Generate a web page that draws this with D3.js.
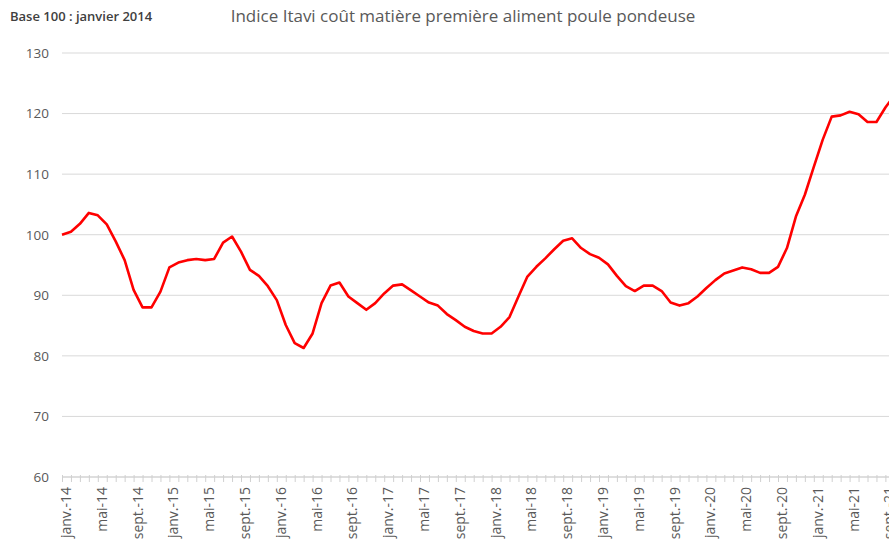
<!DOCTYPE html>
<html lang="fr">
    <head>
        <meta charset="utf-8"/>
        <script src="https://d3js.org/d3.v7.min.js"></script>
        <style>
            html, body { margin: 0; padding: 0; background: #fff; overflow: hidden; }
        </style>
    </head>
    <body>
        <div id="chart"></div>
    </body>
    <script>
        // indice Itavi, base 100 = janvier 2014, une valeur par mois (janv.-14 -> oct.-21)
        var moisNoms = ["janv.", "févr.", "mars", "avr.", "mai", "juin", "juil.", "août", "sept.", "oct.", "nov.", "déc."];
        var annees = ["14", "15", "16", "17", "18", "19", "20", "21"];

        var valeurs = [
            100.0, 100.5, 101.8, 103.6, 103.2, 101.7, 98.9, 95.8, 90.9, 88.0, 88.0, 90.6,
            94.6, 95.4, 95.8, 96.0, 95.8, 96.0, 98.7, 99.7, 97.2, 94.2, 93.2, 91.5,
            89.2, 85.1, 82.1, 81.3, 83.7, 88.7, 91.6, 92.1, 89.8, 88.7, 87.6, 88.7,
            90.3, 91.6, 91.8, 90.8, 89.8, 88.8, 88.3, 86.9, 85.9, 84.8, 84.1, 83.7,
            83.7, 84.8, 86.4, 89.8, 93.1, 94.7, 96.1, 97.6, 99.0, 99.4, 97.8, 96.8,
            96.2, 95.1, 93.2, 91.5, 90.7, 91.6, 91.6, 90.7, 88.8, 88.3, 88.7, 89.8,
            91.2, 92.5, 93.6, 94.1, 94.6, 94.3, 93.7, 93.7, 94.7, 97.8, 103.0, 106.6,
            111.2, 115.7, 119.5, 119.7, 120.3, 119.9, 118.6, 118.6, 121.0, 123.0
        ];

        var yTicks = [60, 70, 80, 90, 100, 110, 120, 130];

        // libellés de catégorie
        var mois = [];
        annees.forEach(function (a) {
            moisNoms.forEach(function (m) { mois.push(m + "-" + a); });
        });
        mois = mois.slice(0, valeurs.length);
        var labelsAxe = mois.filter(function (d, i) { return i % 4 === 0; });

        var data = valeurs.map(function (v, i) { return {mois: mois[i], valeur: v}; });

        var width = 889, height = 545;
        var margin = {top: 53, left: 62, bottom: 68};
        var pasMois = 8.95;

        var svg = d3.select("#chart")
            .append("svg")
                .attr("width", width)
                .attr("height", height)
                .style("font-family", "'Open Sans', sans-serif");

        var x = d3.scalePoint()
            .domain(mois)
            .range([margin.left, margin.left + pasMois * (mois.length - 1)]);

        var y = d3.scaleLinear()
            .domain([60, 130])
            .range([height - margin.bottom, margin.top]);

        // grille horizontale
        svg.append("g")
            .selectAll("line")
            .data(yTicks)
            .enter()
            .append("line")
                .attr("x1", margin.left)
                .attr("x2", width)
                .attr("y1", function (d) { return y(d); })
                .attr("y2", function (d) { return y(d); })
                .attr("stroke", "#d9d9d9")
                .attr("stroke-width", 1);

        // axe Y
        var yAxis = svg.append("g")
            .attr("transform", "translate(49,0)")
            .call(d3.axisLeft(y).tickValues(yTicks).tickSize(0).tickPadding(0));
        yAxis.select(".domain").remove();
        yAxis.selectAll("text")
            .attr("fill", "#595959")
            .style("font-size", "13.5px")
            .style("font-family", "'Open Sans', sans-serif");

        // axe X : graduations mensuelles
        var xAxis = svg.append("g")
            .attr("transform", "translate(0," + (y(60) - 2) + ")")
            .call(d3.axisBottom(x).tickValues(mois).tickSize(7).tickFormat(""));
        xAxis.select(".domain").remove();
        xAxis.selectAll("line").attr("stroke", "#d0d0d0");

        svg.append("line")
            .attr("x1", margin.left)
            .attr("x2", width)
            .attr("y1", y(60))
            .attr("y2", y(60))
            .attr("stroke", "#d0d0d0");

        // libellés de l'axe X (tous les 4 mois)
        svg.append("g")
            .selectAll("text")
            .data(labelsAxe)
            .enter()
            .append("text")
                .attr("transform", function (d) {
                    return "translate(" + (x(d) + 4) + "," + (y(60) + 10) + ") rotate(-90)";
                })
                .attr("text-anchor", "end")
                .attr("dy", "0.35em")
                .attr("fill", "#595959")
                .style("font-size", "14px")
                .text(function (d) { return d; });

        // courbe
        var line = d3.line()
            .x(function (d) { return x(d.mois); })
            .y(function (d) { return y(d.valeur); });

        svg.append("path")
            .datum(data)
            .attr("fill", "none")
            .attr("stroke", "#ff0000")
            .attr("stroke-width", 2.6)
            .attr("stroke-linejoin", "round")
            .attr("d", line);

        // titres
        svg.append("text")
            .attr("x", 463)
            .attr("y", 22)
            .attr("text-anchor", "middle")
            .attr("fill", "#595959")
            .style("font-size", "17px")
            .text("Indice Itavi coût matière première aliment poule pondeuse");

        svg.append("text")
            .attr("x", 10)
            .attr("y", 21)
            .attr("fill", "#404040")
            .style("font-size", "13px")
            .style("font-weight", "600")
            .text("Base 100 : janvier 2014");
    </script>
</html>
